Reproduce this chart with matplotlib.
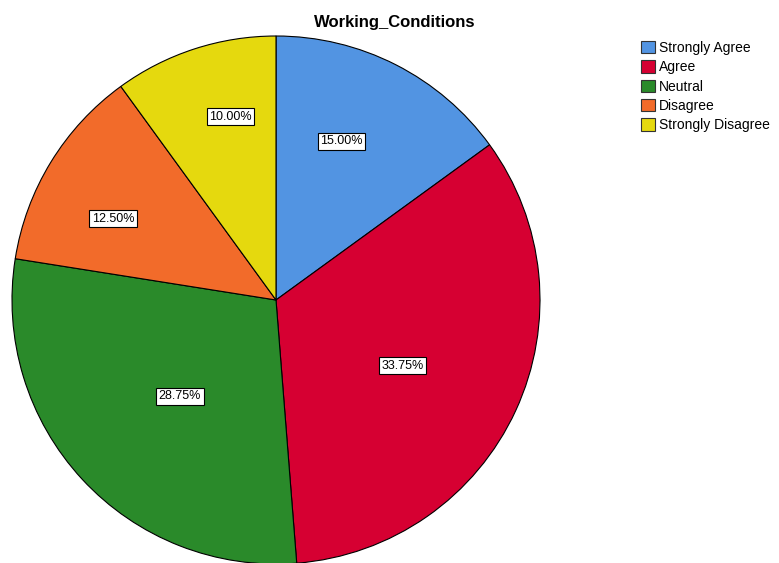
import matplotlib
matplotlib.use("Agg")
import matplotlib.pyplot as plt
from matplotlib.patches import Patch
import numpy as np

plt.rcParams['font.family'] = ['Liberation Sans', 'DejaVu Sans']

categories = ["Strongly Agree", "Agree", "Neutral", "Disagree", "Strongly Disagree"]
values = [15.00, 33.75, 28.75, 12.50, 10.00]
colors = ["#5294E2", "#D60032", "#2A8A2A", "#F26B2A", "#E5D90E"]
label_dist = [0.65, 0.54, 0.515, 0.69, 0.715]
label_ang_shift = [4.5, -2.75, 2.25, 5.0, -4.0]

W, H = 779, 563
fig = plt.figure(figsize=(W / 100, H / 100), dpi=100)
cx, cy, r = 276, 300, 264
ax = fig.add_axes([(cx - r) / W, (H - cy - r) / H, 2 * r / W, 2 * r / H])
ax.axis('off')

wedges, _ = ax.pie(values, colors=colors, startangle=90, counterclock=False,
                   radius=1, wedgeprops=dict(edgecolor='black', linewidth=0.8))
ax.set_xlim(-1, 1)
ax.set_ylim(-1, 1)
ax.set_aspect('auto')

for w, v, d, s in zip(wedges, values, label_dist, label_ang_shift):
    ang = np.deg2rad((w.theta1 + w.theta2) / 2 + s)
    ax.text(d * np.cos(ang), d * np.sin(ang), f"{v:.2f}%", ha='center', va='center',
            fontsize=9, bbox=dict(boxstyle='square,pad=0.2', fc='white', ec='black', lw=0.8))

fig.text(395 / W, 1 - 22 / H, "Working_Conditions", ha='center', va='center',
         fontsize=12, fontweight='bold')

handles = [Patch(facecolor=c, edgecolor='#333333', linewidth=0.8) for c in colors]
fig.legend(handles, categories, loc='upper left', bbox_to_anchor=(641 / W, 1 - 41 / H),
           frameon=False, fontsize=10, handlelength=1.0, handleheight=1.0,
           handletextpad=0.3, labelspacing=0.38, borderpad=0, borderaxespad=0)

fig.savefig("out.png", dpi=100)
